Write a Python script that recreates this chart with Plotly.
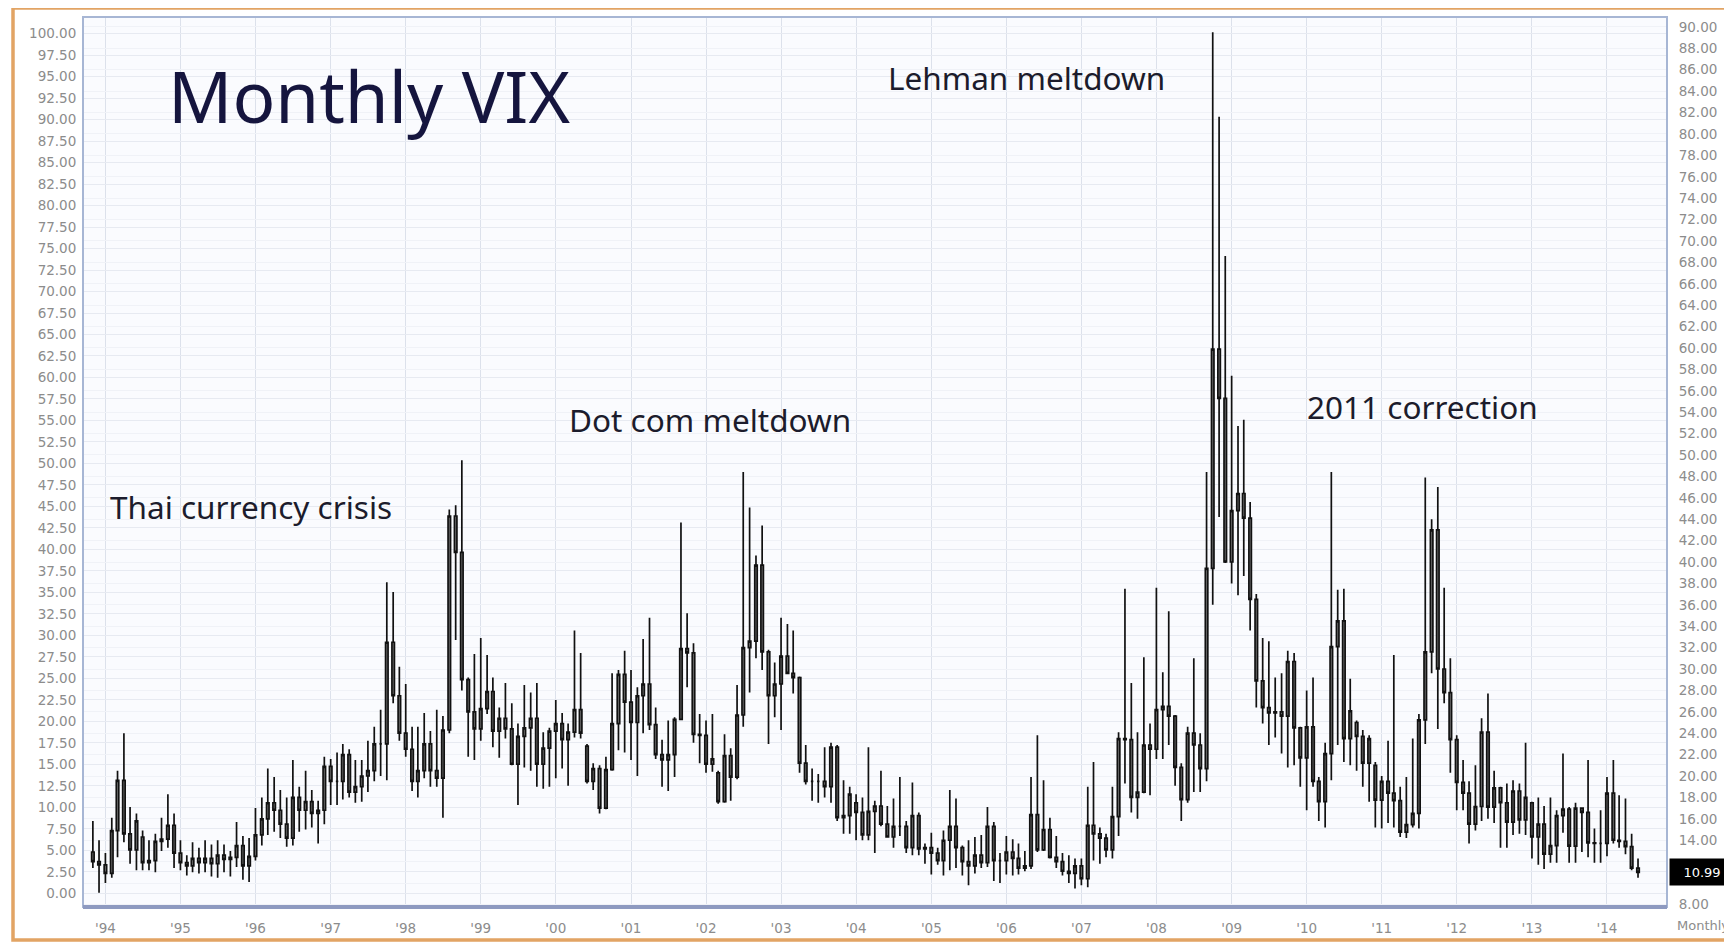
import pandas as pd
import plotly.graph_objects as go

# ---------------- data (monthly VIX, Nov 1993 .. Jun 2014) ----------------
start_month = "1993-11-01"

opens = [
    12.9, 12.0,
    11.7, 10.9, 14.9, 19.6, 14.6, 13.1, 14.3, 11.9, 12.1, 13.9, 14.1, 15.4,
    12.8, 11.9, 11.6, 12.3, 11.9, 12.3, 11.8, 12.6, 12.2, 12.4, 13.5, 11.6,
    12.5, 14.5, 16.0, 17.5, 16.8, 15.5, 14.2, 18.0, 16.8, 17.6, 16.5, 16.8,
    20.9, 19.5, 19.5, 22.0, 18.5, 19.0, 20.0, 20.5, 23.0, 23.0, 32.5, 27.5,
    24.0, 22.5, 19.5, 20.5, 23.0, 20.5, 19.8, 24.3, 44.3, 40.9, 29.0, 26.0,
    24.4, 26.3, 27.9, 24.2, 25.4, 24.4, 21.1, 23.7, 24.5, 25.4, 21.1, 22.6,
    24.2, 24.9, 23.4, 24.1, 26.2, 22.8, 19.5, 20.7, 17.0, 20.6, 24.9, 29.5,
    26.9, 25.0, 27.5, 28.6, 24.8, 22.0, 21.5, 22.0, 25.3, 31.9, 31.5, 23.9,
    23.8, 21.1, 20.3, 17.6, 21.9, 19.9, 25.7, 32.0, 32.6, 39.7, 31.6, 27.5,
    28.6, 31.2, 29.6, 29.2, 21.2, 19.5, 19.5, 19.5, 19.0, 22.7, 16.1, 16.3,
    17.5, 16.6, 14.5, 16.7, 17.2, 15.5, 14.3, 15.3, 15.3, 13.3, 16.3, 13.2,
    13.3, 12.8, 12.1, 14.0, 15.3, 13.3, 12.0, 11.6, 12.6, 11.9, 15.3, 12.1,
    12.1, 12.9, 12.3, 11.4, 11.6, 16.4, 13.1, 15.0, 12.4, 12.0, 11.1, 10.9,
    11.6, 10.4, 15.4, 14.6, 14.2, 13.1, 16.2, 23.5, 23.4, 18.0, 18.5, 22.9,
    22.5, 26.2, 26.5, 25.6, 20.8, 17.8, 24.0, 22.9, 20.7, 39.4, 59.9, 55.3,
    40.0, 44.8, 46.4, 44.1, 36.5, 28.9, 26.4, 25.9, 26.0, 25.6, 30.7, 24.5,
    21.7, 24.6, 19.5, 17.6, 22.1, 32.1, 34.5, 23.5, 25.0, 23.7, 21.2, 21.0,
    17.75, 19.5, 18.4, 17.7, 14.75, 15.45, 16.5, 25.25, 31.6, 43.0, 30.0, 27.8,
    23.4, 19.4, 18.4, 15.5, 17.15, 24.1, 17.1, 18.9, 17.5, 15.7, 18.6, 15.9,
    17.5, 14.3, 15.5, 12.7, 13.5, 16.3, 16.9, 13.45, 17.0, 16.6, 13.75, 13.7,
    13.7, 18.4, 14.0, 13.9, 13.4, 11.4,
]

highs = [
    15.8, 14.0,
    12.8, 16.1, 20.5, 24.0, 17.1, 16.5, 14.9, 14.0, 14.6, 16.1, 18.3, 16.5,
    14.0, 12.6, 13.8, 13.3, 14.0, 13.6, 14.0, 13.6, 13.0, 15.7, 14.4, 14.2,
    17.0, 18.0, 20.7, 19.9, 18.7, 18.0, 21.5, 19.0, 20.5, 18.7, 17.7, 21.8,
    21.6, 22.2, 23.0, 22.5, 21.5, 21.5, 23.3, 24.6, 26.2, 38.1, 37.2, 30.2,
    28.6, 24.6, 24.6, 25.9, 24.2, 26.2, 25.6, 44.9, 45.3, 49.5, 29.2, 31.4,
    32.9, 31.3, 29.2, 26.4, 28.7, 26.8, 24.9, 28.5, 27.8, 28.7, 24.1, 24.5,
    27.1, 25.9, 24.9, 33.6, 31.5, 23.0, 21.2, 21.0, 21.8, 29.6, 29.9, 31.7,
    29.9, 28.3, 32.8, 34.8, 26.4, 23.4, 25.2, 25.5, 43.7, 35.2, 32.4, 25.8,
    25.2, 25.8, 20.5, 23.9, 22.6, 28.5, 48.4, 45.1, 40.6, 43.4, 31.8, 30.6,
    34.8, 34.2, 33.6, 29.3, 22.9, 20.7, 20.2, 22.7, 23.1, 22.9, 19.6, 19.0,
    18.3, 18.0, 22.7, 17.7, 20.5, 17.2, 17.9, 19.9, 15.8, 19.4, 16.6, 13.7,
    14.7, 13.3, 14.9, 18.7, 17.9, 13.5, 14.0, 14.3, 14.5, 17.1, 15.7, 12.8,
    14.4, 14.1, 13.7, 13.0, 19.9, 23.8, 19.6, 16.1, 14.4, 12.8, 12.6, 12.3,
    12.3, 19.0, 21.3, 15.2, 14.6, 19.0, 24.1, 37.5, 28.7, 24.1, 31.1, 24.9,
    37.6, 29.7, 35.4, 25.7, 21.2, 24.6, 31.0, 24.0, 48.4, 89.5, 81.6, 68.6,
    57.4, 52.7, 53.3, 45.6, 37.0, 32.9, 32.6, 29.2, 29.6, 31.7, 31.5, 24.6,
    28.0, 29.2, 19.9, 23.1, 48.4, 37.4, 37.5, 29.1, 25.2, 24.3, 23.8, 21.3,
    20.0, 23.3, 31.3, 19.0, 19.9, 23.5, 25.8, 47.9, 44.0, 47.0, 37.6, 31.0,
    23.8, 21.5, 19.5, 21.0, 25.4, 27.7, 20.5, 19.0, 19.3, 19.6, 19.3, 23.1,
    17.6, 18.0, 17.2, 18.0, 16.8, 22.1, 17.1, 17.5, 17.0, 21.5, 15.1, 16.8,
    19.9, 21.5, 18.2, 17.9, 14.6, 12.3,
]

lows = [
    11.4, 9.1,
    10.0, 10.5, 12.4, 13.8, 11.8, 11.2, 11.2, 11.2, 11.0, 13.0, 13.3, 11.4,
    11.2, 10.7, 11.0, 10.9, 11.0, 10.6, 10.5, 11.0, 10.6, 11.5, 10.3, 10.1,
    12.1, 13.5, 14.5, 14.8, 14.2, 13.4, 13.5, 14.8, 15.0, 15.2, 13.7, 15.5,
    17.3, 17.3, 17.8, 18.0, 17.5, 17.6, 18.5, 19.5, 20.0, 19.6, 26.8, 23.3,
    21.8, 18.6, 18.0, 19.8, 19.0, 19.0, 16.1, 24.0, 32.7, 28.0, 21.8, 21.5,
    23.3, 25.8, 22.7, 21.7, 23.5, 21.0, 17.3, 20.8, 20.5, 19.0, 18.8, 19.0,
    19.8, 20.7, 19.1, 23.6, 23.5, 19.3, 18.7, 16.5, 16.9, 20.5, 22.4, 22.2,
    21.5, 20.0, 24.0, 24.3, 21.6, 19.0, 18.6, 19.9, 25.3, 28.3, 23.1, 21.2,
    20.3, 20.4, 17.4, 17.5, 17.7, 19.7, 24.6, 27.8, 31.0, 29.9, 23.0, 25.5,
    24.3, 29.5, 27.7, 20.3, 19.2, 17.7, 17.5, 18.0, 17.5, 15.8, 14.6, 14.6,
    14.0, 14.0, 14.0, 12.8, 15.3, 14.3, 13.3, 14.4, 12.8, 12.6, 12.6, 11.8,
    10.8, 11.7, 10.7, 11.2, 11.4, 10.7, 9.8, 10.9, 11.4, 11.5, 10.2, 10.0,
    10.8, 10.7, 10.8, 11.1, 11.3, 12.9, 13.0, 12.3, 11.4, 10.7, 10.0, 9.5,
    9.8, 9.6, 12.1, 11.8, 12.4, 12.3, 14.4, 19.3, 16.6, 16.0, 18.4, 18.2,
    21.6, 21.6, 22.9, 19.1, 15.8, 17.5, 18.5, 18.5, 19.5, 36.0, 44.2, 39.9,
    38.0, 36.9, 38.7, 33.6, 26.4, 24.9, 22.9, 23.6, 22.1, 20.8, 21.0, 19.0,
    16.8, 19.0, 15.8, 15.2, 19.6, 22.9, 21.3, 21.0, 20.5, 19.0, 17.6, 15.2,
    15.1, 15.6, 15.2, 14.3, 14.2, 15.2, 15.1, 23.0, 29.6, 24.4, 26.8, 20.3,
    16.8, 16.8, 13.7, 14.9, 15.8, 16.0, 15.6, 13.3, 13.3, 14.5, 14.6, 14.5,
    12.3, 11.7, 11.3, 11.9, 11.9, 14.7, 11.9, 11.9, 12.9, 12.4, 11.9, 11.9,
    12.5, 13.7, 13.3, 12.7, 11.2, 10.5,
]

closes = [
    12.0, 11.7,
    10.9, 14.9, 19.6, 14.6, 13.1, 15.8, 11.9, 12.1, 13.9, 14.1, 15.4, 12.8,
    11.9, 11.6, 12.3, 11.9, 12.3, 11.8, 12.6, 12.2, 12.4, 13.5, 11.6, 12.5,
    14.5, 16.0, 17.5, 16.8, 15.5, 14.2, 18.0, 16.8, 17.6, 16.5, 16.8, 20.9,
    19.5, 19.5, 22.0, 18.5, 19.0, 20.0, 20.5, 23.0, 23.0, 32.5, 27.5, 24.0,
    22.5, 19.5, 20.5, 23.0, 20.5, 19.8, 24.3, 44.3, 40.9, 29.0, 26.0, 24.4,
    26.3, 27.9, 24.2, 25.4, 24.4, 21.1, 23.7, 24.5, 25.4, 21.1, 22.6, 24.2,
    24.9, 23.4, 24.1, 26.2, 24.0, 19.5, 20.7, 17.0, 20.6, 24.9, 29.5, 26.9,
    25.0, 27.5, 28.6, 24.8, 22.0, 21.5, 22.0, 25.3, 31.9, 31.5, 23.9, 23.8,
    21.1, 21.6, 17.6, 21.9, 19.9, 25.7, 32.0, 32.6, 39.7, 31.6, 27.5, 28.6,
    31.2, 29.6, 29.2, 21.2, 19.5, 19.5, 19.5, 19.0, 22.7, 16.1, 16.3, 18.3,
    16.6, 14.5, 16.7, 17.2, 15.5, 14.3, 15.3, 15.3, 13.3, 16.3, 13.2, 13.3,
    12.8, 12.1, 14.0, 15.3, 13.3, 12.0, 11.6, 12.6, 11.9, 15.3, 12.1, 12.1,
    12.9, 12.3, 11.4, 11.6, 16.4, 13.1, 15.0, 12.4, 12.0, 11.1, 10.9, 11.6,
    10.4, 15.4, 14.6, 14.2, 13.1, 16.2, 23.5, 23.4, 18.0, 18.5, 22.9, 22.5,
    26.2, 26.5, 25.6, 20.8, 17.8, 24.0, 22.9, 20.7, 39.4, 59.9, 55.3, 40.0,
    44.8, 46.4, 44.1, 36.5, 28.9, 26.4, 25.9, 26.0, 25.6, 30.7, 24.5, 21.7,
    24.6, 19.5, 17.6, 22.1, 32.1, 34.5, 23.5, 26.1, 23.7, 21.2, 23.5, 17.75,
    19.5, 18.4, 17.7, 14.75, 15.45, 16.5, 25.25, 31.6, 43.0, 30.0, 27.8, 23.4,
    19.4, 18.4, 15.5, 17.15, 24.1, 17.1, 18.9, 17.5, 15.7, 18.6, 15.9, 18.0,
    14.3, 15.5, 12.7, 13.5, 16.3, 16.9, 13.45, 17.0, 16.6, 13.75, 13.7, 13.7,
    18.4, 14.0, 13.9, 13.4, 11.4, 10.99,
]

year_ticks = ["1994-01-01", "1995-01-01", "1996-01-01", "1997-01-01", "1998-01-01",
              "1999-01-01", "2000-01-01", "2001-01-01", "2002-01-01", "2003-01-01",
              "2004-01-01", "2005-01-01", "2006-01-01", "2007-01-01", "2008-01-01",
              "2009-01-01", "2010-01-01", "2011-01-01", "2012-01-01", "2013-01-01",
              "2014-01-01"]
year_labels = ["'94", "'95", "'96", "'97", "'98", "'99", "'00", "'01", "'02", "'03",
               "'04", "'05", "'06", "'07", "'08", "'09", "'10", "'11", "'12", "'13", "'14"]

left_ticks = [i * 2.5 for i in range(41)]          # 0.00 .. 100.00
right_ticks = [8 + 2 * i for i in range(42)]       # 8.00 .. 90.00
right_hidden = [10, 12]                            # covered by the last-value box
last_value = 10.99

annotations_text = ["Thai currency crisis", "Dot com meltdown", "Lehman meltdown", "2011 correction"]

# ---------------- figure ----------------
months = pd.date_range(start=start_month, periods=len(closes), freq="MS")

OFF = 8                      # page body margin offsets the figure
W, H = 1732, 942
# target screen positions of the plot area
SX0, SX1, SY0, SY1 = 83, 1667, 17, 907
ML, MT = SX0 - OFF, SY0 - OFF
MR, MB = W - (SX1 - OFF), H - (SY1 - OFF)
PW, PH = W - ML - MR, H - MT - MB


def px_x(sx):
    return (sx - SX0) / PW


def px_y(sy):
    return (SY1 - sy) / PH


fig = go.Figure()

# invisible helper trace that anchors the left-hand scale
fig.add_trace(go.Scatter(x=[months[0], months[-1]], y=[0, 100], mode="markers",
                         marker=dict(opacity=0), hoverinfo="skip", showlegend=False))

bar_style = dict(line=dict(color="#111111", width=1.7), fillcolor="#747474")
fig.add_trace(go.Candlestick(
    x=months, open=opens, high=highs, low=lows, close=closes,
    yaxis="y2", increasing=bar_style, decreasing=bar_style,
    whiskerwidth=0, showlegend=False, hoverinfo="x+y",
))

tick_font = dict(family="DejaVu Sans", size=13.5, color="#8c8c8c")

fig.update_layout(
    width=W, height=H,
    margin=dict(l=ML, r=MR, t=MT, b=MB, autoexpand=False),
    paper_bgcolor="white",
    plot_bgcolor="#FAFBFE",
    boxgap=0.38,
    showlegend=False,
    xaxis=dict(
        type="date",
        range=["1993-09-14", "2014-10-20"],
        tickmode="array", tickvals=year_ticks, ticktext=year_labels,
        tickfont=tick_font, ticks="outside", ticklen=9, tickcolor="rgba(0,0,0,0)",
        showgrid=True, gridcolor="#DCE1EB", gridwidth=1,
        zeroline=False, showline=False,
        rangeslider=dict(visible=False), fixedrange=True,
    ),
    yaxis=dict(
        range=[-1.59, 101.93],
        tickmode="array", tickvals=left_ticks, ticktext=[f"{v:.2f}" for v in left_ticks],
        tickfont=tick_font, ticks="outside", ticklen=3, tickcolor="rgba(0,0,0,0)",
        showgrid=True, gridcolor="#E7EAF1", gridwidth=1,
        zeroline=False, showline=False, fixedrange=True,
    ),
    yaxis2=dict(
        overlaying="y", side="right",
        range=[7.76, 90.93],
        tickmode="array", tickvals=right_ticks,
        ticktext=["" if v in right_hidden else f"{v:.2f}" for v in right_ticks],
        tickfont=tick_font, ticks="outside", ticklen=8, tickcolor="rgba(0,0,0,0)",
        showgrid=True, gridcolor="#F0F2F7", gridwidth=1,
        zeroline=False, showline=False, fixedrange=True,
    ),
    shapes=[
        # outer orange frame
        dict(type="rect", xref="paper", yref="paper",
             x0=px_x(13), x1=px_x(1760), y0=px_y(940), y1=px_y(8),
             line=dict(color="#E2A464", width=3.5), layer="above"),
        # plot border
        dict(type="rect", xref="paper", yref="paper", x0=0, x1=1, y0=0, y1=1,
             line=dict(color="#A7B6D4", width=2), layer="above"),
        # heavier bottom rule
        dict(type="line", xref="paper", yref="paper", x0=0, x1=1, y0=0, y1=0,
             line=dict(color="#8E9AC0", width=4), layer="above"),
    ],
)

label_font = dict(family="Noto Sans", size=31.5, color="#1C1C2C")
ann = [
    dict(text="Monthly VIX", x=px_x(166), y=px_y(96), xanchor="left", yanchor="middle",
         font=dict(family="Noto Sans", size=71, color="#15153E")),
    dict(text=annotations_text[0], x=px_x(108), y=px_y(506), xanchor="left", yanchor="middle", font=label_font),
    dict(text=annotations_text[1], x=px_x(567), y=px_y(419), xanchor="left", yanchor="middle", font=label_font),
    dict(text=annotations_text[2], x=px_x(886), y=px_y(77), xanchor="left", yanchor="middle", font=label_font),
    dict(text=annotations_text[3], x=px_x(1305), y=px_y(406), xanchor="left", yanchor="middle", font=label_font),
    dict(text="Monthly", x=px_x(1675), y=px_y(926), xanchor="left", yanchor="middle",
         font=dict(family="DejaVu Sans", size=13, color="#8c8c8c")),
]
for a in ann:
    a.update(xref="paper", yref="paper", showarrow=False)

ann.append(dict(text=f"{last_value:.2f}", xref="paper", yref="y2",
                x=px_x(1669), y=last_value, xanchor="left", yanchor="middle",
                showarrow=False, bgcolor="#000000", width=60, height=22, borderpad=2,
                font=dict(family="DejaVu Sans", size=13, color="white")))
fig.update_layout(annotations=ann)

fig.write_html("out.html", config={"displayModeBar": False})
